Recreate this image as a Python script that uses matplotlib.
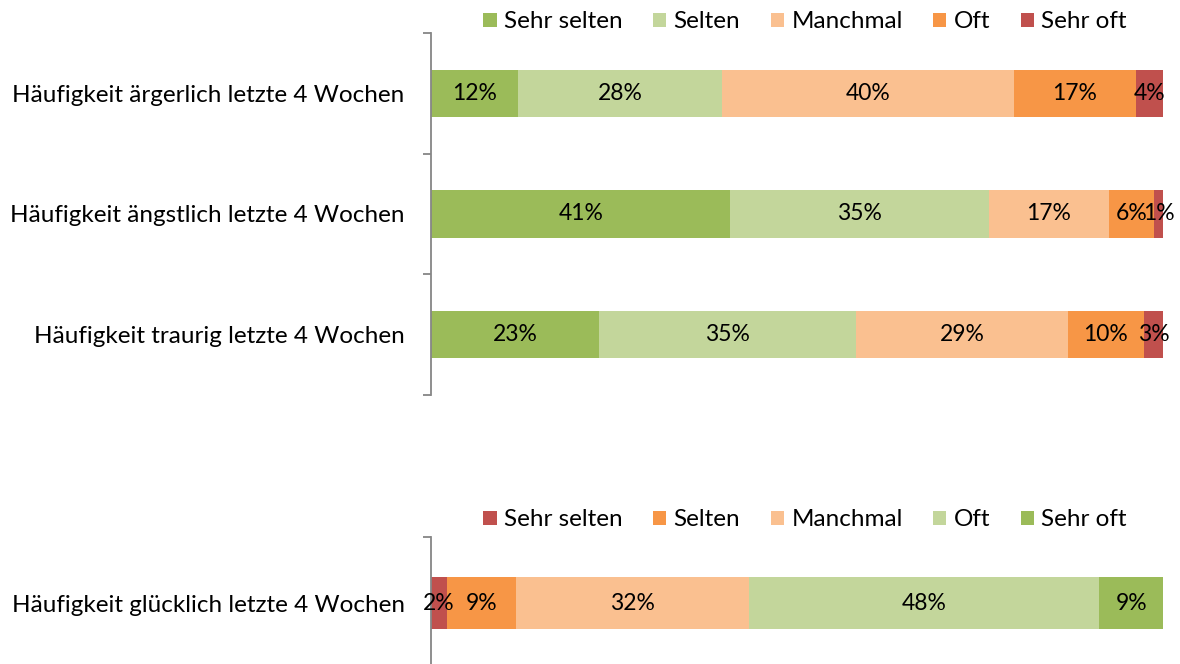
import matplotlib
matplotlib.use("Agg")
import matplotlib.pyplot as plt
import numpy as np

plt.rcParams['font.family'] = ['Lato', 'DejaVu Sans']

# ---- data ----
levels = ["Sehr selten", "Selten", "Manchmal", "Oft", "Sehr oft"]

top_categories = ["Häufigkeit ärgerlich letzte 4 Wochen",
                  "Häufigkeit ängstlich letzte 4 Wochen",
                  "Häufigkeit traurig letzte 4 Wochen"]
top_sehr_selten = [11.9, 40.9, 23.0]
top_selten = [27.9, 35.3, 35.1]
top_manchmal = [39.8, 16.4, 28.9]
top_oft = [16.7, 6.2, 10.4]
top_sehr_oft = [3.7, 1.2, 2.6]
top_labels = [["12%", "28%", "40%", "17%", "4%"],
              ["41%", "35%", "17%", "6%", "1%"],
              ["23%", "35%", "29%", "10%", "3%"]]

bottom_categories = ["Häufigkeit glücklich letzte 4 Wochen"]
bottom_sehr_selten = [2.2]
bottom_selten = [9.4]
bottom_manchmal = [31.8]
bottom_oft = [47.9]
bottom_sehr_oft = [8.7]
bottom_labels = [["2%", "9%", "32%", "48%", "9%"]]

top_colors = ["#9BBB59", "#C3D69B", "#FAC090", "#F79646", "#C0504D"]
bottom_colors = ["#C0504D", "#F79646", "#FAC090", "#C3D69B", "#9BBB59"]

W, H = 1180, 664
fig = plt.figure(figsize=(W / 100, H / 100), dpi=100)

FS = 17.5
FS_DATA = 16.5
SPINE = "#868686"


def fc(x0, y0, x1, y1):
    return [x0 / W, 1 - y1 / H, (x1 - x0) / W, (y1 - y0) / H]


def panel(rect, cats, series, labels, colors, legend_y):
    ax = fig.add_axes(rect)
    n = len(cats)
    y = np.arange(n)
    data = np.array(series, dtype=float)  # shape (5, n)
    totals = data.sum(axis=0)
    left = np.zeros(n)
    handles = []
    for i, lev in enumerate(levels):
        vals = data[i] / totals * 100
        b = ax.barh(y, vals, left=left, height=0.39, color=colors[i],
                    label=lev, edgecolor='none')
        handles.append(b)
        for j in range(n):
            ax.text(left[j] + vals[j] / 2, y[j], labels[j][i],
                    ha='center', va='center', fontsize=FS_DATA, color='black')
        left = left + vals
    ax.set_xlim(0, 100)
    ax.set_ylim(n - 0.5, -0.5)
    ax.set_yticks(y)
    ax.set_yticklabels(cats, fontsize=FS)
    ax.set_yticks(np.arange(n + 1) - 0.5, minor=True)
    ax.tick_params(axis='y', which='major', length=0, pad=19)
    ax.tick_params(axis='y', which='minor', length=6, width=1.3, color=SPINE)
    ax.set_xticks([])
    for s in ['top', 'right', 'bottom']:
        ax.spines[s].set_visible(False)
    ax.spines['left'].set_color(SPINE)
    ax.spines['left'].set_linewidth(1.3)
    fig.legend(handles=handles, labels=levels, loc='center',
               bbox_to_anchor=(805 / W, 1 - legend_y / H), ncol=5,
               frameon=False, fontsize=FS, handlelength=0.55,
               handleheight=0.55, handletextpad=0.3, columnspacing=1.25)
    return ax


panel(fc(431, 33, 1163, 395), top_categories,
      [top_sehr_selten, top_selten, top_manchmal, top_oft, top_sehr_oft],
      top_labels, top_colors, 22)
panel(fc(431, 537, 1163, 669), bottom_categories,
      [bottom_sehr_selten, bottom_selten, bottom_manchmal, bottom_oft, bottom_sehr_oft],
      bottom_labels, bottom_colors, 520)

fig.savefig("out.png", dpi=100)
